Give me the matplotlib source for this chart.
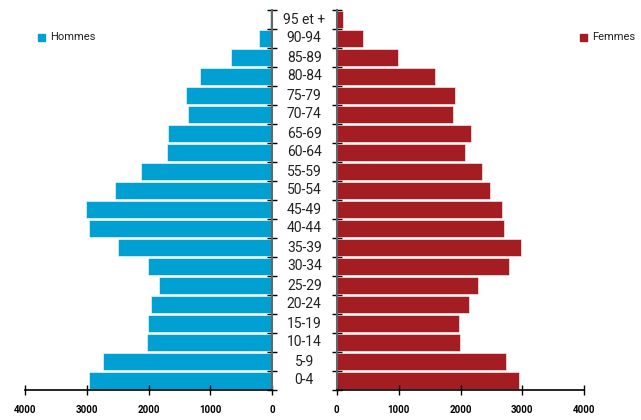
import matplotlib
matplotlib.use("Agg")
import matplotlib.pyplot as plt
import numpy as np

plt.rcParams['font.family'] = ['Roboto', 'DejaVu Sans']

ages = ["0-4", "5-9", "10-14", "15-19", "20-24", "25-29", "30-34", "35-39",
        "40-44", "45-49", "50-54", "55-59", "60-64", "65-69", "70-74", "75-79",
        "80-84", "85-89", "90-94", "95 et +"]
hommes = [2964, 2731, 2024, 2003, 1960, 1835, 2013, 2489, 2958, 3012,
          2543, 2127, 1695, 1684, 1360, 1393, 1166, 660, 215, 30]
femmes = [2940, 2730, 1987, 1971, 2132, 2278, 2784, 2973, 2708, 2666,
          2477, 2353, 2073, 2170, 1884, 1906, 1593, 995, 420, 107]
xticks = [0, 1000, 2000, 3000, 4000]

blue = "#00A0D2"
red = "#A31D23"

W, H = 641, 420
fig = plt.figure(figsize=(W / 100, H / 100), dpi=100)

bottom = 1 - 390 / H
top = 1 - 10 / H
axL = fig.add_axes([25 / W, bottom, (272 - 25) / W, top - bottom])
axR = fig.add_axes([336.7 / W, bottom, (584.3 - 336.7) / W, top - bottom])

y = np.arange(len(ages))
axL.barh(y, hommes, height=0.92, color=blue, edgecolor="white", linewidth=0.4)
axR.barh(y, femmes, height=0.92, color=red, edgecolor="white", linewidth=0.4)

for ax in (axL, axR):
    ax.set_ylim(-0.5, len(ages) - 0.5)
    ax.set_xlim(0, 4000)
    ax.set_xticks(xticks)
    ax.set_xticklabels([str(v) for v in xticks], fontsize=7, fontweight="bold")
    ax.set_yticks(np.arange(len(ages) + 1) - 0.5)
    ax.set_yticklabels([])
    ax.tick_params(axis="x", direction="inout", length=7, width=1, pad=7, colors="black")
    ax.tick_params(axis="y", direction="inout", length=7, width=1, colors="black")
    ax.spines["top"].set_visible(False)
    ax.spines["bottom"].set_linewidth(1.2)

axL.invert_xaxis()
axL.spines["left"].set_visible(False)
axL.yaxis.tick_right()
axL.spines["right"].set_color("#666666")
axL.spines["right"].set_linewidth(1.5)

axR.spines["right"].set_visible(False)
axR.spines["left"].set_color("#666666")
axR.spines["left"].set_linewidth(1.5)

# Age labels centered between the two panels
for i, lab in enumerate(ages):
    yy = 1 - (390 - (i + 0.5) * 19) / H
    fig.text(304.3 / W, yy, lab, ha="center", va="center", fontsize=10, color="#222222")

# Legends
fig.patches.append(plt.Rectangle((38 / W, 1 - 41 / H), 7 / W, 7 / H, transform=fig.transFigure,
                                 color=blue, figure=fig))
fig.text(50 / W, 1 - 37.5 / H, "Hommes", ha="left", va="center", fontsize=8,
         color="#222222")
fig.patches.append(plt.Rectangle((580 / W, 1 - 41 / H), 7 / W, 7 / H, transform=fig.transFigure,
                                 color=red, figure=fig))
fig.text(592 / W, 1 - 37.5 / H, "Femmes", ha="left", va="center", fontsize=8,
         color="#222222")

fig.savefig("out.png", dpi=100)
